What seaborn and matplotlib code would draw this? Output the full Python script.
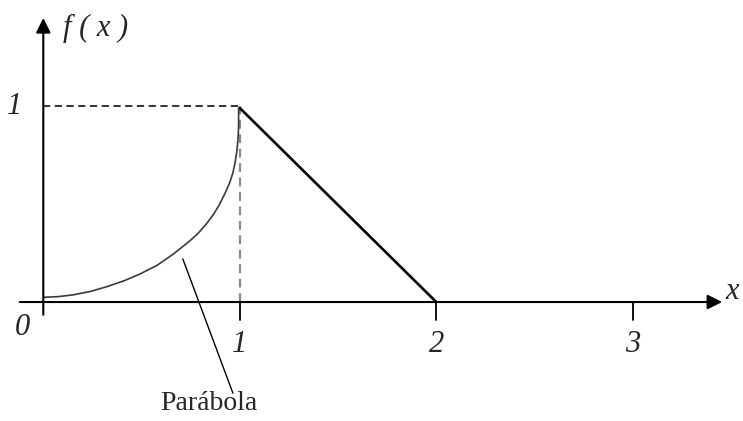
import matplotlib
matplotlib.use("Agg")
import matplotlib.pyplot as plt
import seaborn as sns
import pandas as pd

# values
parab_x = [0.0, 0.08, 0.154, 0.24, 0.322, 0.41, 0.492, 0.58, 0.662, 0.746, 0.79, 0.831, 0.868, 0.898, 0.925, 0.949, 0.965, 0.976, 0.985, 0.990, 0.993, 0.994, 0.994]
parab_y = [0.024, 0.028, 0.037, 0.054, 0.078, 0.108, 0.143, 0.188, 0.245, 0.312, 0.353, 0.40, 0.45, 0.50, 0.555, 0.61, 0.66, 0.71, 0.77, 0.82, 0.87, 0.92, 0.99]
line_x = [1.0, 2.0]
line_y = [0.99, 0.0]
tick_pos = [0, 1, 2, 3]
tick_labels = ["0", "1", "2", "3"]
y_level = 1.0
label_point = (0.71, 0.22)
label_text = (0.84, -0.52)


def main():
    sns.set_style("white")
    plt.rcParams["font.family"] = ["Liberation Serif", "DejaVu Serif"]

    fig = plt.figure(figsize=(7.43, 4.21), dpi=100)
    ax = fig.add_axes([0, 0, 1, 1])
    ax.set_xlim(-0.2204, 3.561)
    ax.set_ylim(-0.607, 1.541)
    ax.axis("off")

    parab = pd.DataFrame({"x": parab_x, "y": parab_y})
    seg = pd.DataFrame({"x": line_x, "y": line_y})

    # axes with arrows
    ax.annotate("", xy=(3.455, 0), xytext=(-0.12, 0),
                arrowprops=dict(arrowstyle="-|>", color="black", lw=1.5,
                                mutation_scale=22, shrinkA=0, shrinkB=0))
    ax.annotate("", xy=(0, 1.449), xytext=(0, -0.065),
                arrowprops=dict(arrowstyle="-|>", color="black", lw=1.5,
                                mutation_scale=22, shrinkA=0, shrinkB=0))

    # dashed guides
    ax.plot([0, 1], [y_level, y_level], ls=(0, (4, 2.5)), color="#222222", lw=1.3)
    ax.plot([1, 1], [0, y_level], ls=(0, (4, 2.5)), color="#8a8a8a", lw=1.6)

    sns.lineplot(data=parab, x="x", y="y", sort=False, estimator=None,
                 color="#3a3a3a", lw=1.2, ax=ax)
    sns.lineplot(data=seg, x="x", y="y", sort=False, estimator=None,
                 color="black", lw=1.9, ax=ax)

    # tick marks and labels
    for p, lab in zip(tick_pos, tick_labels):
        if p > 0:
            ax.plot([p, p], [0, -0.09], color="black", lw=1.3)
            ax.text(p, -0.215, lab, ha="center", va="center", fontsize=22,
                    fontstyle="italic")
        else:
            ax.text(-0.105, -0.13, lab, ha="center", va="center", fontsize=22,
                    fontstyle="italic")
    ax.text(-0.145, y_level, "1", ha="center", va="center", fontsize=22,
            fontstyle="italic")

    ax.text(3.505, 0.055, "x", ha="center", va="center", fontsize=22,
            fontstyle="italic")
    ax.text(0.1, 1.395, "f ( x )", ha="left", va="center", fontsize=22,
            fontstyle="italic")

    # label with leader line
    ax.plot([label_point[0], 0.965], [label_point[1], -0.465], color="black", lw=1.0)
    ax.text(label_text[0], label_text[1], "Parábola", ha="center",
            va="center", fontsize=20)

    fig.savefig("out.png", dpi=100)


if __name__ == "__main__":
    main()
